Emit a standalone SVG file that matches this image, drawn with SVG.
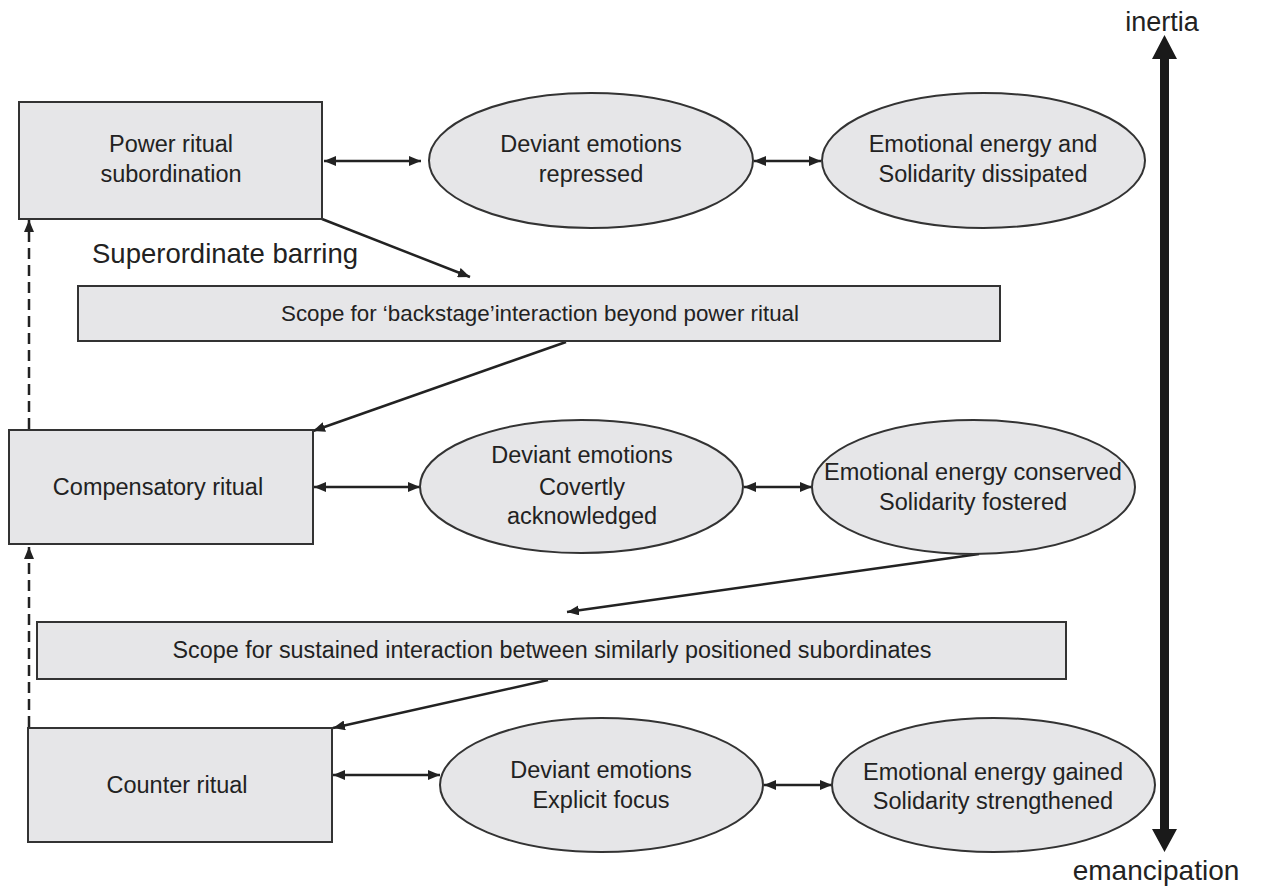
<svg xmlns="http://www.w3.org/2000/svg" width="1262" height="888" viewBox="0 0 1262 888">
<style>
.shape{fill:#e6e6e8;stroke:#333;stroke-width:2}
.t{font-family:"Liberation Sans",Arial,Helvetica,sans-serif;font-size:23.5px;fill:#222;text-anchor:middle}
.c{fill:none;stroke:#222;stroke-width:2.5}
.d{fill:none;stroke:#222;stroke-width:2.5;stroke-dasharray:11,6}
</style>
<defs>
<marker id="ah" viewBox="0 0 12 10" refX="12" refY="5" markerWidth="12" markerHeight="10" markerUnits="userSpaceOnUse" orient="auto-start-reverse">
<path d="M0,0 L12,5 L0,10 z" fill="#222"/>
</marker>
</defs>
<rect width="1262" height="888" fill="#fff"/>

<g id="connectors">
<line class="c" x1="324" y1="161" x2="421" y2="161" marker-start="url(#ah)" marker-end="url(#ah)"/>
<line class="c" x1="754" y1="161" x2="821" y2="161" marker-start="url(#ah)" marker-end="url(#ah)"/>
<line class="c" x1="322" y1="219" x2="470" y2="277" marker-end="url(#ah)"/>
<line class="c" x1="566" y1="342" x2="313" y2="431" marker-end="url(#ah)"/>
<line class="c" x1="314" y1="487" x2="420" y2="487" marker-start="url(#ah)" marker-end="url(#ah)"/>
<line class="c" x1="744" y1="487" x2="812" y2="487" marker-start="url(#ah)" marker-end="url(#ah)"/>
<line class="c" x1="979" y1="554" x2="567" y2="612" marker-end="url(#ah)"/>
<line class="c" x1="548" y1="680" x2="333" y2="728" marker-end="url(#ah)"/>
<line class="c" x1="333" y1="775" x2="440" y2="775" marker-start="url(#ah)" marker-end="url(#ah)"/>
<line class="c" x1="764" y1="785" x2="832" y2="785" marker-start="url(#ah)" marker-end="url(#ah)"/>
<line class="d" x1="29" y1="727" x2="29" y2="547" marker-end="url(#ah)"/>
<line class="d" x1="29" y1="429" x2="29" y2="220" marker-end="url(#ah)"/>
<polygon points="1164.5,35 1177,59 1169,59 1169,829 1177,829 1164.5,852 1152,829 1160,829 1160,59 1152,59" fill="#1a1a1a"/>
</g>

<g id="power-ritual">
<rect class="shape" x="19" y="102" width="303" height="117"/>
<text class="t" x="171" y="152">Power ritual</text>
<text class="t" x="171" y="182">subordination</text>
</g>
<g id="deviant-repressed">
<ellipse class="shape" cx="591" cy="160.5" rx="162" ry="67.5"/>
<text class="t" x="591" y="152">Deviant emotions</text>
<text class="t" x="591" y="182">repressed</text>
</g>
<g id="energy-dissipated">
<ellipse class="shape" cx="983.5" cy="160.5" rx="161.5" ry="67.5"/>
<text class="t" x="983" y="152">Emotional energy and</text>
<text class="t" x="983" y="182">Solidarity dissipated</text>
</g>
<g id="superordinate-barring">
<text x="92" y="263" font-family="Liberation Sans,Arial,sans-serif" font-size="27.5" fill="#222">Superordinate barring</text>
</g>
<g id="scope-backstage">
<rect class="shape" x="78" y="286" width="922" height="55"/>
<text class="t" x="540" y="321" style="font-size:22px" textLength="518" lengthAdjust="spacingAndGlyphs">Scope for ‘backstage’interaction beyond power ritual</text>
</g>
<g id="compensatory-ritual">
<rect class="shape" x="9" y="430" width="304" height="114"/>
<text class="t" x="158" y="495">Compensatory ritual</text>
</g>
<g id="deviant-covert">
<ellipse class="shape" cx="581.5" cy="486.5" rx="161.5" ry="66.5"/>
<text class="t" x="582" y="463">Deviant emotions</text>
<text class="t" x="582" y="495">Covertly</text>
<text class="t" x="582" y="524">acknowledged</text>
</g>
<g id="energy-conserved">
<ellipse class="shape" cx="973.5" cy="487" rx="161.5" ry="67"/>
<text class="t" x="973" y="480">Emotional energy conserved</text>
<text class="t" x="973" y="510">Solidarity fostered</text>
</g>
<g id="scope-sustained">
<rect class="shape" x="37" y="622" width="1029" height="57"/>
<text class="t" x="552" y="658" textLength="759" lengthAdjust="spacingAndGlyphs">Scope for sustained interaction between similarly positioned subordinates</text>
</g>
<g id="counter-ritual">
<rect class="shape" x="28" y="728" width="304" height="114"/>
<text class="t" x="177" y="793">Counter ritual</text>
</g>
<g id="deviant-explicit">
<ellipse class="shape" cx="601.5" cy="785" rx="161.5" ry="67"/>
<text class="t" x="601" y="778">Deviant emotions</text>
<text class="t" x="601" y="808">Explicit focus</text>
</g>
<g id="energy-gained">
<ellipse class="shape" cx="993.5" cy="785" rx="161.5" ry="67"/>
<text class="t" x="993" y="780">Emotional energy gained</text>
<text class="t" x="993" y="809">Solidarity strengthened</text>
</g>
<g id="inertia">
<text class="t" x="1162" y="31" style="font-size:27px">inertia</text>
</g>
<g id="emancipation">
<text class="t" x="1156" y="880" style="font-size:28px">emancipation</text>
</g>
</svg>
